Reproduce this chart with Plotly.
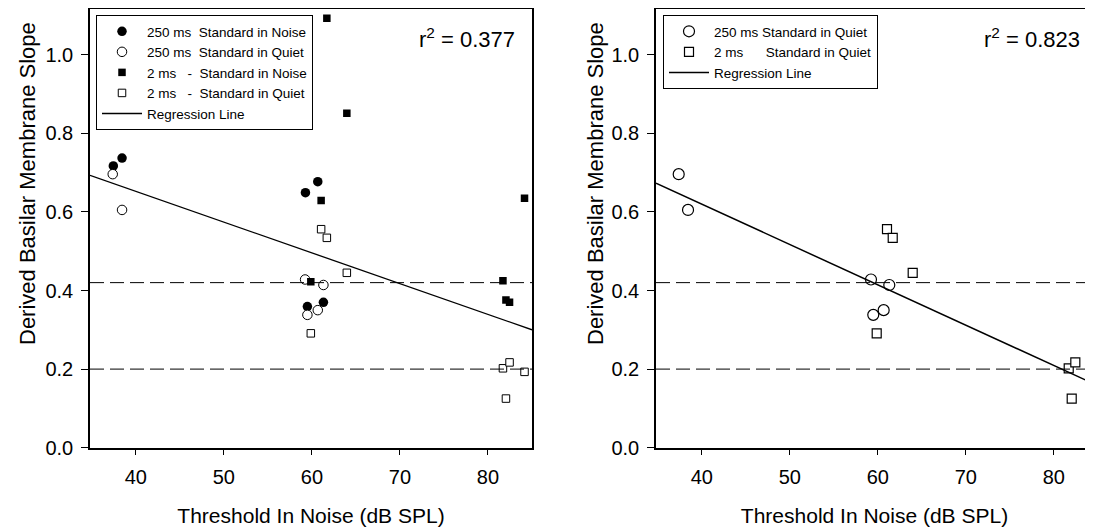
import plotly.graph_objects as go

# --- datos ---
noise_250_x = [37.45, 38.44, 59.27, 60.67, 59.49, 61.31]
noise_250_y = [0.717, 0.737, 0.649, 0.677, 0.359, 0.370]

quiet_250_x = [37.38, 38.44, 59.23, 61.31, 59.49, 60.67]
quiet_250_y = [0.696, 0.605, 0.428, 0.414, 0.338, 0.350]

noise_2_x = [61.05, 59.88, 61.70, 63.97, 84.15, 81.70, 82.04, 82.45]
noise_2_y = [0.629, 0.422, 1.093, 0.851, 0.635, 0.425, 0.376, 0.370]

quiet_2_x = [61.05, 61.70, 63.97, 59.88, 81.70, 82.45, 84.15, 82.04]
quiet_2_y = [0.556, 0.534, 0.445, 0.291, 0.202, 0.217, 0.193, 0.125]

reg_x = [34.8, 85.0]
reg_left_y = [0.693, 0.300]
reg_right_y = [0.673, 0.158]

ref_levels = [0.42, 0.20]
r2_left = 0.377
r2_right = 0.823

FONT = "Liberation Sans, Arial, sans-serif"
# la pagina tiene 8 px de margen en el body: todo se coloca restando ese desfase
OFF = 8
W, H = 1093 - OFF, 527 - OFF


def px_x(p):
    return (p - OFF) / W


def px_y(p):
    return 1 - (p - OFF) / H


fig = go.Figure()

# panel izquierdo
fig.add_trace(go.Scatter(x=noise_250_x, y=noise_250_y, mode='markers',
                         name='250 ms\u00a0 Standard in Noise',
                         marker=dict(symbol='circle', size=9.5, color='black'),
                         xaxis='x', yaxis='y', legend='legend'))
fig.add_trace(go.Scatter(x=quiet_250_x, y=quiet_250_y, mode='markers',
                         name='250 ms\u00a0 Standard in Quiet',
                         marker=dict(symbol='circle', size=9.5, color='white',
                                     line=dict(color='black', width=1)),
                         xaxis='x', yaxis='y', legend='legend'))
fig.add_trace(go.Scatter(x=noise_2_x, y=noise_2_y, mode='markers',
                         name='2 ms\u00a0\u00a0 -\u00a0 Standard in Noise',
                         marker=dict(symbol='square', size=7.5, color='black'),
                         xaxis='x', yaxis='y', legend='legend'))
fig.add_trace(go.Scatter(x=quiet_2_x, y=quiet_2_y, mode='markers',
                         name='2 ms\u00a0\u00a0 -\u00a0 Standard in Quiet',
                         marker=dict(symbol='square', size=7.5, color='white',
                                     line=dict(color='black', width=1)),
                         xaxis='x', yaxis='y', legend='legend'))
fig.add_trace(go.Scatter(x=reg_x, y=reg_left_y, mode='lines', name='Regression Line',
                         line=dict(color='black', width=1.3),
                         xaxis='x', yaxis='y', legend='legend'))

# panel derecho
fig.add_trace(go.Scatter(x=quiet_250_x, y=quiet_250_y, mode='markers',
                         name='250 ms Standard in Quiet',
                         marker=dict(symbol='circle', size=11, color='white',
                                     line=dict(color='black', width=1.2)),
                         xaxis='x2', yaxis='y2', legend='legend2'))
fig.add_trace(go.Scatter(x=quiet_2_x, y=quiet_2_y, mode='markers',
                         name='2 ms\u00a0\u00a0\u00a0\u00a0\u00a0 Standard in Quiet',
                         marker=dict(symbol='square', size=9, color='white',
                                     line=dict(color='black', width=1.2)),
                         xaxis='x2', yaxis='y2', legend='legend2'))
fig.add_trace(go.Scatter(x=reg_x, y=reg_right_y, mode='lines', name='Regression Line',
                         line=dict(color='black', width=1.5),
                         xaxis='x2', yaxis='y2', legend='legend2'))

# lineas de referencia discontinuas
for xa, ya in [('x', 'y'), ('x2', 'y2')]:
    for lv in ref_levels:
        fig.add_trace(go.Scatter(x=[reg_x[0], reg_x[1]], y=[lv, lv], mode='lines',
                                 line=dict(color='black', width=1, dash='14px,6px'),
                                 showlegend=False, hoverinfo='skip',
                                 xaxis=xa, yaxis=ya))

eje_x = dict(range=[34.8, 85], tickvals=[40, 50, 60, 70, 80], showline=True,
             linecolor='black', linewidth=1.5, ticks='outside', ticklen=6,
             tickcolor='black', showgrid=False, zeroline=False, automargin=False,
             ticklabelstandoff=5,
             tickfont=dict(size=20, color='black', family=FONT),
             title=dict(text='Threshold In Noise (dB SPL)', standoff=22,
                        font=dict(size=21, color='black', family=FONT)))
eje_y = dict(range=[0, 1.1155], tickvals=[0, 0.2, 0.4, 0.6, 0.8, 1.0], tickformat='.1f',
             showline=True, linecolor='black', linewidth=1.5, ticks='outside', ticklen=7,
             tickcolor='black', showgrid=False, zeroline=False, automargin=False,
             ticklabelstandoff=4,
             tickfont=dict(size=20, color='black', family=FONT))

leyenda = dict(xanchor='left', yanchor='top', bgcolor='white', bordercolor='black',
               borderwidth=1, font=dict(size=13.5, color='black', family=FONT),
               tracegroupgap=0, itemwidth=40)

# el titulo del eje y no esta centrado en el eje: se pone como anotacion
titulo_y = dict(text='Derived Basilar Membrane Slope', xref='paper', yref='paper',
                textangle=-90, xanchor='center', yanchor='middle', showarrow=False,
                font=dict(size=22, color='black', family=FONT))

fig.update_layout(
    width=W, height=H,
    margin=dict(l=0, r=0, t=0, b=0, autoexpand=False),
    paper_bgcolor='white', plot_bgcolor='white',
    font=dict(family=FONT, color='black'),
    xaxis=dict(eje_x, domain=[px_x(90), px_x(532)], anchor='y', mirror=True),
    yaxis=dict(eje_y, domain=[px_y(447.7), px_y(9.3)], anchor='x', mirror=True),
    xaxis2=dict(eje_x, domain=[px_x(656), 1.0], range=[34.8, 34.8 + 437 / 8.8],
                anchor='y2', mirror=True),
    yaxis2=dict(eje_y, domain=[px_y(447.7), px_y(9.3)], anchor='x2'),
    legend=dict(leyenda, x=px_x(96), y=px_y(15)),
    legend2=dict(leyenda, x=px_x(663), y=px_y(15)),
    annotations=[
        dict(titulo_y, x=px_x(27), y=px_y(184)),
        dict(titulo_y, x=px_x(595), y=px_y(184)),
        dict(text=f'r<sup>2</sup> = {r2_left:.3f}', xref='paper', yref='paper',
             x=px_x(467), y=px_y(38), xanchor='center', yanchor='middle',
             showarrow=False, font=dict(size=22, color='black')),
        dict(text=f'r<sup>2</sup> = {r2_right:.3f}', xref='paper', yref='paper',
             x=px_x(1032), y=px_y(38), xanchor='center', yanchor='middle',
             showarrow=False, font=dict(size=22, color='black')),
    ],
)

fig.write_html("out.html")
